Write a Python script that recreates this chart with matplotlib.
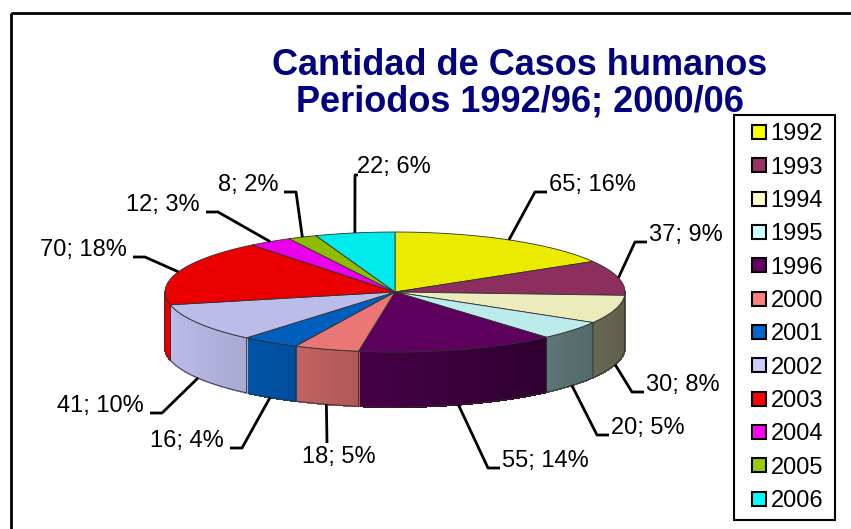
import numpy as np
import matplotlib.pyplot as plt
from matplotlib.patches import Polygon, Rectangle
from matplotlib.lines import Line2D
from matplotlib.collections import PolyCollection
from matplotlib.colors import to_rgb

# datos
years = ['1992', '1993', '1994', '1995', '1996', '2000',
         '2001', '2002', '2003', '2004', '2005', '2006']
cases = [65, 37, 30, 20, 55, 18, 16, 41, 70, 12, 8, 22]
colors = ['#FFFF00', '#993366', '#FFFFCC', '#CCFFFF', '#660066', '#FF8080',
          '#0066CC', '#CCCCFF', '#FF0000', '#FF00FF', '#99CC00', '#00FFFF']
title = 'Cantidad de Casos humanos\nPeriodos 1992/96; 2000/06'

# where each leader line bends (pixels) and on which side the text goes
label_elbows = [(535, 192), (635, 242), (632, 392), (597, 435), (488, 468), (327, 443),
                (242, 448), (162, 413), (145, 257), (218, 212), (296, 192), (355, 175)]
label_side = ['r', 'r', 'r', 'r', 'r', 'b', 'l', 'l', 'l', 'l', 'l', 't']

plt.rcParams['font.family'] = ['Liberation Sans', 'DejaVu Sans']

fig = plt.figure(figsize=(8.51, 5.29), dpi=100)
ax = fig.add_axes([0, 0, 1, 1])
ax.set_xlim(0, 851)
ax.set_ylim(529, 0)
ax.axis('off')

# chart border (cut at right / bottom)
ax.add_patch(Rectangle((11, 13), 870, 540, fill=False, ec='black', lw=2))

cx, cy, rx, ry, depth = 395, 292, 230, 60, 55


def rim(t, dy=0.0):
    return cx + rx * np.sin(t), cy - ry * np.cos(t) + dy


total = float(sum(cases))
edges = np.concatenate([[0], np.cumsum(cases)]) / total * 2 * np.pi

##################################################
##              PAREDES LATERALES
##################################################
for i in range(len(cases)):
    lo = max(edges[i], np.pi / 2)
    hi = min(edges[i + 1], 3 * np.pi / 2)
    if hi <= lo:
        continue
    base = np.array(to_rgb(colors[i])) * 0.92
    ts = np.linspace(lo, hi, max(int((hi - lo) / 0.01), 2))
    quads, fcs = [], []
    for a, b in zip(ts[:-1], ts[1:]):
        xa, ya = rim(a)
        xb, yb = rim(b)
        quads.append([(xa, ya), (xb, yb), (xb, yb + depth), (xa, ya + depth)])
        f = 0.7 - 0.3 * np.sin((a + b) / 2)
        fcs.append(np.clip(base * f, 0, 1))
    ax.add_collection(PolyCollection(quads, facecolors=fcs, edgecolors=fcs,
                                     linewidths=0.8, antialiaseds=False))
    xs, ys = rim(ts)
    outline = list(zip(xs, ys)) + list(zip(xs[::-1], ys[::-1] + depth))
    ax.add_patch(Polygon(outline, closed=True, fill=False, ec='#303030', lw=0.6))

##################################################
##              CARA SUPERIOR
##################################################
for i in range(len(cases)):
    ts = np.linspace(edges[i], edges[i + 1], 80)
    xs, ys = rim(ts)
    pts = [(cx, cy)] + list(zip(xs, ys))
    top = np.clip(np.array(to_rgb(colors[i])) * 0.92, 0, 1)
    ax.add_patch(Polygon(pts, closed=True, fc=top, ec='#303030', lw=0.6))

##################################################
##              ETIQUETAS
##################################################
for i in range(len(cases)):
    m = (edges[i] + edges[i + 1]) / 2
    ax_, ay_ = rim(m, depth if np.cos(m) < 0 else 0)
    ex, ey = label_elbows[i]
    pct = round(cases[i] / total * 100)
    txt = f'{cases[i]}; {pct}%'
    side = label_side[i]
    if side == 'r':
        ax.plot([ax_, ex, ex + 12], [ay_, ey, ey], color='black', lw=2, solid_capstyle='butt')
        ax.text(ex + 14, ey - 7, txt, ha='left', va='center', fontsize=17)
    elif side == 'l':
        ax.plot([ax_, ex, ex - 12], [ay_, ey, ey], color='black', lw=2, solid_capstyle='butt')
        ax.text(ex - 18, ey - 7, txt, ha='right', va='center', fontsize=17)
    elif side == 'b':
        ax.plot([ax_, ex], [ay_, ey], color='black', lw=2, solid_capstyle='butt')
        ax.text(ex + 12, ey + 14, txt, ha='center', va='center', fontsize=17)
    else:
        ax.plot([ax_, ex, ex + 3], [ay_, ey, ey], color='black', lw=2, solid_capstyle='butt')
        ax.text(ex + 2, ey - 8, txt, ha='left', va='center', fontsize=17)

ax.text(520, 84, title, ha='center', va='center', fontsize=26, fontweight='bold',
        color='#000080', linespacing=1.05)

handles = [Line2D([], [], ls='none', marker='s', ms=9.4, mfc=c, mec='black', mew=1.5, label=y)
           for c, y in zip(colors, years)]
leg = ax.legend(handles=handles, loc='upper left', bbox_to_anchor=(734, 115, 101, 405),
                bbox_transform=ax.transData, mode='expand', borderaxespad=0, fontsize=17,
                handlelength=1.45, handletextpad=-0.25,
                labelspacing=0.48, borderpad=0.35, fancybox=False, framealpha=1)
leg.get_frame().set_edgecolor('black')
leg.get_frame().set_linewidth(1.5)

fig.savefig('out.png', dpi=100)
